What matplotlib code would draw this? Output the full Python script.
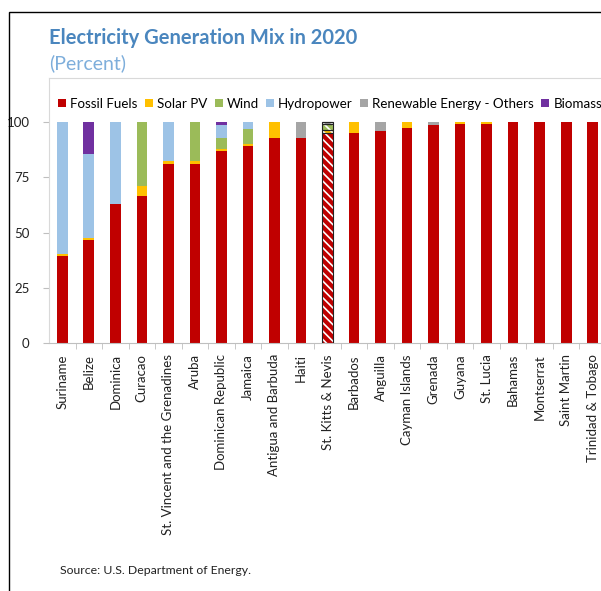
import numpy as np
import matplotlib
matplotlib.use("Agg")
import matplotlib.pyplot as plt
from matplotlib.patches import Rectangle, Patch

plt.rcParams['font.family'] = ['Lato', 'DejaVu Sans']

countries = ["Suriname", "Belize", "Dominica", "Curacao", "St. Vincent and the Grenadines",
             "Aruba", "Dominican Republic", "Jamaica", "Antigua and Barbuda", "Haiti",
             "St. Kitts & Nevis", "Barbados", "Anguilla", "Cayman Islands", "Grenada",
             "Guyana", "St. Lucia", "Bahamas", "Montserrat", "Saint Martin",
             "Trinidad & Tobago"]

fossil = [39.6, 46.8, 62.9, 66.7, 81.1, 81.1, 87.1, 89.1, 92.9, 92.9,
          94.9, 95.2, 96.2, 97.4, 98.6, 99.1, 99.1, 100, 100, 100, 100]
solar = [0.5, 0.8, 0, 4.3, 1.2, 1.2, 0.9, 0.9, 7.1, 0,
         1.4, 4.8, 0, 2.6, 0, 0.9, 0.9, 0, 0, 0, 0]
wind = [0, 0, 0, 29.0, 0, 17.7, 4.9, 6.7, 0, 0,
        2.7, 0, 0, 0, 0, 0, 0, 0, 0, 0, 0]
hydro = [59.9, 38.2, 37.1, 0, 17.7, 0, 6.0, 3.3, 0, 0,
         0, 0, 0, 0, 0, 0, 0, 0, 0, 0, 0]
others = [0, 0, 0, 0, 0, 0, 0, 0, 0, 7.1,
          1.0, 0, 3.8, 0, 1.4, 0, 0, 0, 0, 0, 0]
biomass = [0, 14.2, 0, 0, 0, 0, 1.1, 0, 0, 0,
           0, 0, 0, 0, 0, 0, 0, 0, 0, 0, 0]

series = [("Fossil Fuels", fossil, "#C00000"),
          ("Solar PV", solar, "#FFC000"),
          ("Wind", wind, "#9BBB59"),
          ("Hydropower", hydro, "#9DC3E6"),
          ("Renewable Energy - Others", others, "#A5A5A5"),
          ("Biomass", biomass, "#7030A0")]

hatched = "St. Kitts & Nevis"

fig = plt.figure(figsize=(6.01, 5.91), dpi=100)
ax = fig.add_axes([49 / 601, 248 / 591, 557 / 601, 265 / 591])

x = np.arange(len(countries))
width = 0.4
solid = np.array([c != hatched for c in countries])
bottom = np.zeros(len(countries))
plt.rcParams['hatch.linewidth'] = 1.2
for name, vals, color in series:
    vals = np.array(vals, dtype=float)
    ax.bar(x[solid], vals[solid], width, bottom=bottom[solid], color=color,
           edgecolor="none", zorder=2)
    # estimated values: hatched fill with dark outline
    ax.bar(x[~solid], vals[~solid], width, bottom=bottom[~solid], color=color,
           edgecolor="white", hatch="\\\\\\\\", linewidth=0, zorder=2)
    ax.bar(x[~solid], vals[~solid], width, bottom=bottom[~solid], color="none",
           edgecolor="#222222", linewidth=0.8, zorder=3)
    bottom += vals

ax.set_xlim(-0.5, len(countries) - 0.5)
ax.set_ylim(0, 120)
ax.set_yticks([0, 25, 50, 75, 100])
ax.set_xticks(x)
ax.set_xticklabels(countries, rotation=90, fontsize=9.5, color="#222222")
ax.set_xticks(x[:-1] + 0.5, minor=True)
ax.tick_params(axis="x", which="major", length=0, pad=8)
ax.tick_params(axis="x", which="minor", length=4, color="#BFBFBF")
ax.tick_params(axis="y", length=4, color="#BFBFBF", labelsize=9.5,
               labelcolor="#222222", pad=10)

for side in ["left", "top"]:
    ax.spines[side].set_color("#D9D9D9")
ax.spines["bottom"].set_color("#BFBFBF")
ax.spines["right"].set_visible(False)

handles = [Patch(facecolor=c, edgecolor="none") for _, _, c in series]
labels = [n for n, _, _ in series]
ax.legend(handles, labels, loc="upper left", bbox_to_anchor=(0.0, 0.96), ncol=6,
          frameon=False, fontsize=9.6, handlelength=0.6, handleheight=0.6,
          handletextpad=0.3, columnspacing=0.55, borderaxespad=0.3)

fig.text(49 / 601, 1 - 38 / 591, "Electricity Generation Mix in 2020", fontsize=14.5,
         fontweight="bold", color="#4A86BE", va="center")
fig.text(49 / 601, 1 - 63 / 591, "(Percent)", fontsize=14, color="#7EAEDB",
         va="center")
fig.text(60 / 601, 1 - 571 / 591, "Source: U.S. Department of Energy.", fontsize=8.8,
         color="#222222", va="center")

fig.patches.append(Rectangle((9 / 601, -0.05), 1.0, 1 - 12 / 591 + 0.05,
                             transform=fig.transFigure, fill=False,
                             edgecolor="black", linewidth=1.0))

fig.savefig("out.png", dpi=100)
